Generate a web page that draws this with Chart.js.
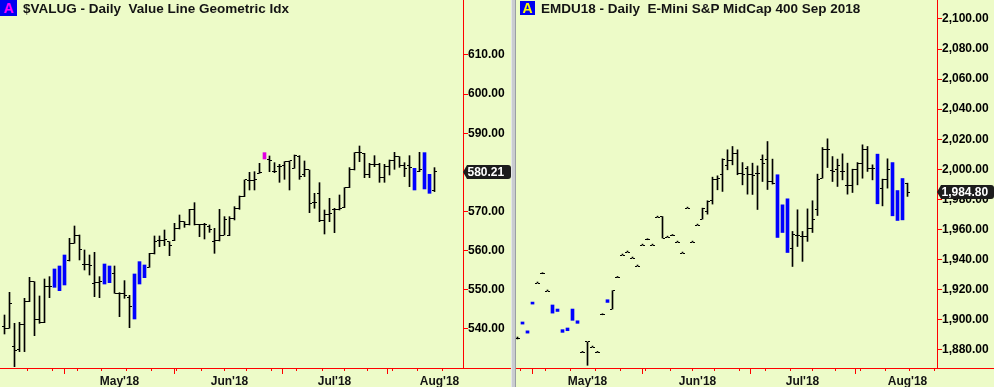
<!DOCTYPE html>
<html><head><meta charset="utf-8">
<script src="https://cdn.jsdelivr.net/npm/chart.js@4.4.1/dist/chart.umd.min.js"></script>
<style>
html,body{margin:0;padding:0;background:#EDFBC8;}
body{width:994px;height:387px;position:relative;overflow:hidden;font-family:"Liberation Sans",Arial,sans-serif;}
#c1{position:absolute;left:0;top:0;}
#c2{position:absolute;left:516px;top:0;}
.sep{position:absolute;left:511px;top:0;width:5px;height:387px;background:#c9ccd0;border-left:1px solid #e4e6e8;border-right:1px solid #9a9ea3;box-sizing:border-box;}
.badge{position:absolute;top:0;width:17px;height:16px;background:#0000f0;color:#ff00ff;font:bold 14px "Liberation Sans",Arial,sans-serif;text-align:center;line-height:17px;}
.title{position:absolute;top:1px;font:bold 13.5px "Liberation Sans",Arial,sans-serif;color:#141414;white-space:pre;}
</style></head>
<body>
<canvas id="c1" width="511" height="387"></canvas>
<div class="sep"></div>
<canvas id="c2" width="478" height="387"></canvas>
<div class="badge" style="left:0">A</div>
<div class="title" style="left:23px">$VALUG - Daily  Value Line Geometric Idx</div>
<div class="badge" style="left:520px;top:1px;width:15px;height:14px;line-height:15px;color:#ffff00">A</div>
<div class="title" style="left:541px">EMDU18 - Daily  E-Mini S&amp;P MidCap 400 Sep 2018</div>
<script>
// ---- trading days (categories), incl. a few future days for the axis ----
const dates = [
'2018-03-28','2018-03-29',
'2018-04-02','2018-04-03','2018-04-04','2018-04-05','2018-04-06',
'2018-04-09','2018-04-10','2018-04-11','2018-04-12','2018-04-13',
'2018-04-16','2018-04-17','2018-04-18','2018-04-19','2018-04-20',
'2018-04-23','2018-04-24','2018-04-25','2018-04-26','2018-04-27',
'2018-04-30','2018-05-01','2018-05-02','2018-05-03','2018-05-04',
'2018-05-07','2018-05-08','2018-05-09','2018-05-10','2018-05-11',
'2018-05-14','2018-05-15','2018-05-16','2018-05-17','2018-05-18',
'2018-05-21','2018-05-22','2018-05-23','2018-05-24','2018-05-25',
'2018-05-29','2018-05-30','2018-05-31','2018-06-01',
'2018-06-04','2018-06-05','2018-06-06','2018-06-07','2018-06-08',
'2018-06-11','2018-06-12','2018-06-13','2018-06-14','2018-06-15',
'2018-06-18','2018-06-19','2018-06-20','2018-06-21','2018-06-22',
'2018-06-25','2018-06-26','2018-06-27','2018-06-28','2018-06-29',
'2018-07-02','2018-07-03','2018-07-05','2018-07-06',
'2018-07-09','2018-07-10','2018-07-11','2018-07-12','2018-07-13',
'2018-07-16','2018-07-17','2018-07-18','2018-07-19','2018-07-20',
'2018-07-23','2018-07-24','2018-07-25','2018-07-26','2018-07-27',
'2018-07-30','2018-07-31','2018-08-01','2018-08-02','2018-08-03',
'2018-08-06','2018-08-07','2018-08-08'
];

// ---- $VALUG daily (from 2018-03-28) ----
const leftFirstDate = '2018-03-28';
const leftOpen = [540.59,540.17,535.5,534.63,541.02,546.98,552.09,542.30,541.70,550.81,
551.5,550.5,552,557.37,561.88,564.01,556.35,556.35,551.66,551.83,
552,555.5,554.22,549.11,549.11,548.09,543.5,552,553.5,555.75,
559.16,562.57,562.57,562.31,562.57,565.55,567.42,566.82,570.40,566.74,
566.57,566.14,562.31,562.48,564.01,563.84,568.27,570.83,573.81,577.90,
577.90,579.77,584,583.35,580.19,581.47,581.73,582.75,581.05,584.03,
579.34,580.62,572.27,574.66,567.68,569.29,570.40,570.57,571.00,576.11,
580.79,585.05,584.88,579.34,582.07,582.07,578.66,581.47,582.92,584.03,
581.73,581.64,576,580.30,584.5,579,575.26];
const leftHigh = [543.57,549.36,541.44,541.70,547.83,553.20,552.09,548.43,552.77,553.37,
555.33,556.09,558.90,563.16,566.31,564.01,560.18,558.90,559.58,553.37,
556.60,556.09,556.09,549.28,552.35,548.60,554.05,557.20,556.35,559.33,
563.76,563.76,565.29,562.31,566.99,569.12,567.42,570.57,572.27,566.74,
566.99,566.57,565.72,570.57,568.70,568.70,571.25,573.98,578.07,580.02,
580.19,582.32,585.05,584.20,582.49,582.07,582.75,582.92,584.45,584.28,
582.92,580.62,574.66,577.38,570.40,573.38,570.83,574.23,576.11,581.22,
585.05,586.75,584.88,582.32,584.28,582.32,582.07,583.18,585.13,584.03,
582.49,584.28,581.05,585.13,585.05,579.51,581.22];
const leftLow = [538.72,540.17,530.37,534.21,534.21,546.98,538.29,541.44,541.61,548.00,
550.64,549.79,551.24,557.37,561.88,557.63,555.07,553.79,548.26,548.00,
551.49,551.83,549.11,543.15,547.83,540.34,542.55,551.49,553.11,555.75,
559.16,561.03,561.29,558.73,562.57,565.55,565.97,566.57,566.57,563.59,
562.99,564.69,559.33,562.48,564.01,563.84,567.85,570.57,573.81,575.51,
575.51,579.77,583.43,580.19,579.94,577.47,578.24,575.51,581.05,578.24,
578.92,569.72,570.83,567.42,564.27,567.42,564.61,570.40,571.00,576.11,
580.62,582.75,578.66,578.66,581.47,577.47,577.47,579.34,580.79,581.30,
578.92,576.36,575.51,580.19,575.77,574.66,575.09];
const leftClose = [540.17,546.55,534.46,541.02,546.98,552.09,542.30,541.70,550.81,550.81,
554.5,555.5,558,561.88,564.01,560.18,556.35,556.09,551.83,552.09,
556,552.5,549.11,549.11,548.43,545.70,553,556.5,556,559.16,
562.31,562.57,562.74,561.20,565.72,567.42,566.82,570.40,566.74,566.57,
566.57,565.29,562.48,564.01,567.85,568.27,570.83,573.81,578.07,577.90,
578.07,579.94,584.5,583.00,580.19,581.47,582.75,582.92,584.20,578.92,
580.62,572.10,572.27,567.68,569.12,569.38,570.40,570.83,576.11,580.79,
585.05,585.05,579.34,582.07,582.07,578.66,581.47,582.92,584.03,581.73,
581.05,581.22,580.5,580.62,576.5,575.5,580.21];
// signal marks: '' normal bar, 'b' blue signal bar, 'm' magenta signal bar
const leftMark = ['','','','','','','','','','',
'b','b','b','','','','','','','',
'b','b','','','','','b','b','b','',
'','','','','','','','','','',
'','','','','','','','','','',
'','','m','','','','','','','',
'','','','','','','','','','',
'','','','','','','','','','',
'','','b','','b','b',''];

// ---- EMDU18 daily (from 2018-04-11) ----
const rightFirstDate = '2018-04-11';
const rightOpen = [1887.8,1897.3,1892.4,1910.6,1924.4,1930.6,1919.1,1905.0,1905.8,1891.9,
1893.0,1900.0,1898.0,1878.3,1885.2,1881.8,1878.3,1903.3,1911.8,1907.1,
1928.1,1943.0,1945.0,1941.0,1935.7,1949.6,1953.2,1949.6,1968.2,1968.6,
1954.9,1956.0,1951.6,1944.3,1974.2,1951.6,1962.9,1966.9,1972.0,1979.0,
1993.5,1996.3,2002.3,2005.9,2010.3,1997.5,2000.8,1996.3,1997.0,2006.8,
2006.8,1991.9,1995.0,1960.0,1978.0,1947.6,1956.0,1955.4,1955.4,1960.9,
1973.5,1994.1,2013.4,1999.0,1999.7,1998.6,1989.3,1989.0,1999.7,2004.1,
2013.0,2000.8,2008.0,1987.5,1993.0,2003.0,1985.0,1968.0,1990.4];
const rightHigh = [1888.5,1898.5,1892.6,1911.7,1924.4,1930.6,1919.1,1909.8,1907.1,1893.4,
1894.5,1907.1,1899.3,1878.3,1885.2,1881.8,1878.3,1903.3,1913.3,1919.3,
1928.1,1943.0,1945.0,1941.0,1935.7,1949.6,1953.2,1949.6,1968.2,1968.6,
1954.9,1956.0,1951.6,1944.3,1974.2,1951.6,1962.9,1974.2,1979.1,1994.8,
1995.7,2007.0,2013.0,2015.2,2013.0,2004.5,2001.9,2004.1,2002.3,2009.6,
2018.5,2006.8,1996.4,1976.4,1980.4,1958.7,1973.1,1958.7,1973.7,1979.1,
1996.8,2014.5,2020.3,2008.5,2006.8,2010.3,2004.1,2000.1,2004.5,2016.3,
2015.2,2003.0,2010.1,1993.5,2007.0,2004.5,1985.9,1993.9,1990.8];
const rightLow = [1887.2,1897.1,1891.1,1910.4,1924.4,1930.6,1919.1,1904.4,1905.5,1891.6,
1892.7,1899.6,1897.6,1878.3,1869.7,1881.8,1878.3,1903.3,1911.5,1907.1,
1928.1,1943.0,1945.0,1941.0,1935.7,1949.6,1953.2,1949.6,1968.2,1954.3,
1954.9,1956.0,1951.6,1944.3,1974.2,1951.6,1962.9,1966.9,1970.2,1976.9,
1986.4,1985.3,1999.7,2003.0,1996.4,1989.7,1983.5,1983.3,1973.3,1991.9,
1986.6,1990.2,1954.7,1958.0,1944.7,1935.4,1948.7,1938.8,1952.1,1958.0,
1969.3,1994.1,2001.2,1991.9,1988.6,1993.0,1983.5,1984.6,1989.7,1994.1,
1998.6,1993.0,1977.1,1975.7,1987.5,1969.1,1966.0,1966.4,1982.0];
const rightClose = [1887.8,1898.3,1891.3,1911.5,1924.4,1930.6,1919.1,1909.0,1906.6,1892.0,
1894.0,1906.5,1898.8,1878.3,1885.2,1881.8,1878.3,1903.3,1913.0,1919.3,
1928.1,1943.0,1945.0,1941.0,1935.7,1949.6,1953.2,1949.6,1968.2,1954.3,
1954.9,1956.0,1951.6,1944.3,1974.2,1951.6,1962.9,1974.2,1978.6,1993.5,
1994.1,2006.3,2005.9,2010.3,1997.5,1996.3,1996.3,1995.7,1997.0,2003.7,
1992.0,1990.8,1956.0,1975.0,1946.0,1956.5,1956.0,1955.4,1960.9,1966.9,
1993.0,2013.0,2013.4,1998.6,2002.3,1998.6,1989.3,1999.7,2004.1,2013.0,
2000.8,2000.8,1978.0,1993.0,2000.1,1970.0,1967.0,1992.0,1984.8];
const rightMark = ['','b','b','b','','','','b','b','b',
'b','b','b','','','','','','b','',
'','','','','','','','','','',
'','','','','','','','','','',
'','','','','','','','','','',
'','','b','b','b','','','','','',
'','','','','','','','','','',
'','','b','','','b','b','b',''];

// ---- axis tick values ----
const leftYTicks = [540,550,560,570,580,590,600,610];
const rightYTicks = [1880,1900,1920,1940,1960,1980,2000,2020,2040,2060,2080,2100];
const monthNames = ['Jan','Feb','Mar','Apr','May','Jun','Jul','Aug','Sep','Oct','Nov','Dec'];

// ---------------- helpers ----------------
const FONT = "'Liberation Sans', Arial, sans-serif";
const RED = '#ff0000';
const dOf = s => new Date(s + 'T00:00:00Z');
const weekTicks = [], monthTicks = [];
for (let i = 5; i < dates.length; i++) {
  const d = dOf(dates[i]), p = dOf(dates[i - 1]);
  if (d.getUTCMonth() !== p.getUTCMonth()) monthTicks.push(i);
  if (d.getUTCDay() <= p.getUTCDay()) weekTicks.push(i);
}
function monthLabel(i) {
  const d = dOf(dates[i]);
  return monthNames[d.getUTCMonth()] + "'" + String(d.getUTCFullYear()).slice(2);
}
function tickImg(side) {
  const c = document.createElement('canvas');
  c.width = 5; c.height = 1;
  const g = c.getContext('2d');
  g.fillStyle = '#000';
  g.fillRect(side === 'open' ? 0 : 3, 0, 2, 1);
  return c;
}
const openImg = tickImg('open'), closeImg = tickImg('close');

function buildDatasets(first, O, H, L, C, M) {
  const off = dates.indexOf(first);
  const black = [], blue = [], mag = [], opens = [], closes = [];
  for (let k = 0; k < H.length; k++) {
    const i = off + k;
    const pt = { x: i, y: [L[k], H[k]] };
    if (M[k] === 'b') blue.push(pt);
    else if (M[k] === 'm') mag.push(pt);
    else {
      black.push(pt);
      opens.push({ x: i, y: O[k] });
      closes.push({ x: i, y: C[k] });
    }
  }
  const bar = (data, color, w, minLen) => ({
    type: 'bar', data, backgroundColor: color, borderWidth: 0,
    barThickness: w, minBarLength: minLen, grouped: false, order: 2
  });
  const tk = (data, img) => ({
    type: 'scatter', data, pointStyle: img, pointRadius: 1, pointBorderWidth: 0,
    borderWidth: 0, showLine: false, order: 1
  });
  return [bar(black, '#000000', 1, 1), bar(blue, '#0000ff', 3, 2), bar(mag, '#e000e0', 3, 2),
          tk(opens, openImg), tk(closes, closeImg)];
}

const crisp = {
  id: 'crisp',
  beforeDatasetsDraw(chart) { chart.ctx.imageSmoothingEnabled = false; },
  afterDatasetsDraw(chart) { chart.ctx.imageSmoothingEnabled = true; }
};
const baseLine = {
  id: 'baseLine',
  afterDraw(chart) {
    const ctx = chart.ctx, y = Math.round(chart.chartArea.bottom) + 0.5;
    ctx.save(); ctx.strokeStyle = RED; ctx.lineWidth = 1;
    ctx.beginPath(); ctx.moveTo(0, y); ctx.lineTo(chart.width, y); ctx.stroke();
    ctx.restore();
  }
};
const priceTag = {
  id: 'priceTag',
  afterDraw(chart, args, opts) {
    const ctx = chart.ctx, x = chart.chartArea.right;
    const y = Math.round(chart.scales.y.getPixelForValue(opts.value));
    const r = chart.width, h = 7;
    ctx.save();
    ctx.fillStyle = '#1c1c1c';
    ctx.beginPath();
    ctx.moveTo(x, y);
    ctx.lineTo(x + 4, y - h);
    ctx.lineTo(r - 3, y - h);
    ctx.quadraticCurveTo(r, y - h, r, y - h + 3);
    ctx.lineTo(r, y + h - 3);
    ctx.quadraticCurveTo(r, y + h, r - 3, y + h);
    ctx.lineTo(x + 4, y + h);
    ctx.closePath(); ctx.fill();
    ctx.fillStyle = '#ffffff';
    ctx.font = 'bold 12px ' + FONT;
    ctx.textBaseline = 'middle'; ctx.textAlign = 'left';
    ctx.fillText(opts.label, x + 4.5, y + 0.5);
    ctx.restore();
  }
};

function makeChart(canvasId, cfg) {
  const xMin = cfg.xMin, xMax = cfg.xMax;
  const inRange = v => v >= xMin && v <= xMax;
  return new Chart(document.getElementById(canvasId), {
    type: 'bar',
    data: { datasets: buildDatasets(cfg.first, cfg.O, cfg.H, cfg.L, cfg.C, cfg.M) },
    plugins: [crisp, baseLine, priceTag],
    options: {
      responsive: false, animation: false, devicePixelRatio: 1,
      layout: { padding: 0, autoPadding: false },
      plugins: {
        legend: { display: false }, tooltip: { enabled: false }, title: { display: false },
        priceTag: { value: cfg.last, label: cfg.fmt(cfg.last) }
      },
      scales: {
        x: {
          type: 'linear', min: xMin, max: xMax, offset: false, position: 'bottom', weight: 0,
          afterBuildTicks: s => { s.ticks = weekTicks.filter(inRange).map(v => ({ value: v })); },
          afterFit: s => { s.height = 0; s.paddingLeft = 0; s.paddingRight = 0; },
          grid: { drawOnChartArea: false, drawTicks: true, tickLength: 3, color: RED, tickColor: RED },
          border: { display: false },
          ticks: { display: false }
        },
        x2: {
          type: 'linear', min: xMin, max: xMax, offset: false, position: 'bottom', weight: 1,
          afterBuildTicks: s => { s.ticks = monthTicks.filter(inRange).map(v => ({ value: v })); },
          afterFit: s => { s.height = 19; s.paddingLeft = 0; s.paddingRight = 0; },
          grid: { drawOnChartArea: false, drawTicks: true, tickLength: 6, color: RED, tickColor: RED },
          border: { display: false },
          ticks: {
            autoSkip: false, maxRotation: 0, padding: 0, color: '#141414',
            font: { family: FONT, size: 12, weight: 'bold' },
            callback: v => monthLabel(v)
          }
        },
        y: {
          position: 'right', min: cfg.yMin, max: cfg.yMax,
          afterBuildTicks: s => { s.ticks = cfg.yTicks.map(v => ({ value: v })); },
          afterFit: s => { s.width = cfg.axisW; s.paddingTop = 0; s.paddingBottom = 0; },
          grid: { drawOnChartArea: false, drawTicks: true, tickLength: 5, color: RED, tickColor: RED },
          border: { display: true, color: RED, width: 1 },
          ticks: {
            autoSkip: false, padding: 0, color: '#000000',
            font: { family: FONT, size: 12, weight: 'bold' },
            callback: v => cfg.fmt(v)
          }
        }
      }
    }
  });
}

const fmt2 = v => Number(v).toLocaleString('en-US', { minimumFractionDigits: 2, maximumFractionDigits: 2 });

makeChart('c1', {
  first: leftFirstDate, O: leftOpen, H: leftHigh, L: leftLow, C: leftClose, M: leftMark,
  xMin: -0.9, xMax: 91.7, yMin: 530.03, yMax: 624.05, yTicks: leftYTicks, axisW: 48,
  last: leftClose[leftClose.length - 1], fmt: fmt2
});
makeChart('c2', {
  first: rightFirstDate, O: rightOpen, H: rightHigh, L: rightLow, C: rightClose, M: rightMark,
  xMin: 8.7, xMax: 92.9, yMin: 1867.9, yMax: 2112.6, yTicks: rightYTicks, axisW: 57,
  last: rightClose[rightClose.length - 1], fmt: fmt2
});
</script>
</body></html>
